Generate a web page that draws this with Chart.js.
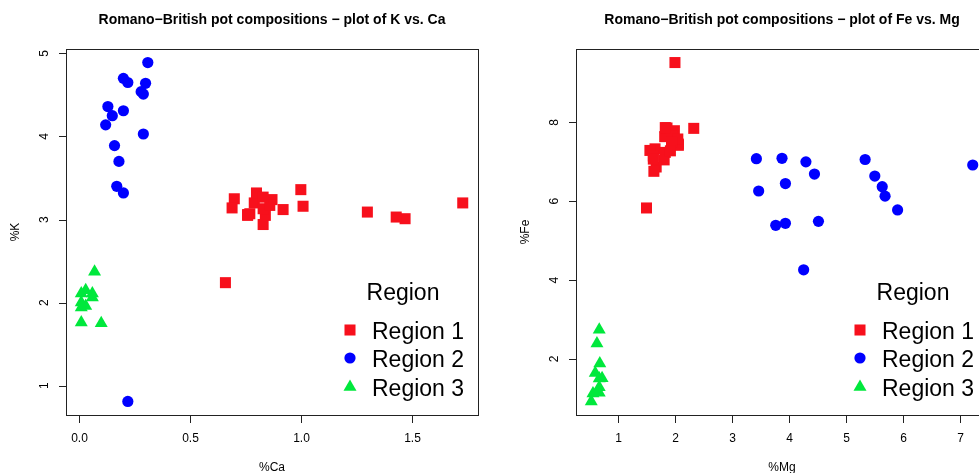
<!DOCTYPE html>
<html>
<head>
<meta charset="utf-8">
<script src="https://cdn.jsdelivr.net/npm/chart.js@4.4.0/dist/chart.umd.min.js"></script>
<style>
html, body { margin: 0; padding: 0; background: #fff; overflow: hidden; }
#wrap { position: relative; width: 979px; height: 473px; overflow: hidden; }
canvas { position: absolute; top: 0; }
</style>
</head>
<body>
<div id="wrap">
  <canvas id="plotKCa" width="510" height="473" style="left:0px"></canvas>
  <canvas id="plotFeMg" width="510" height="473" style="left:510px"></canvas>
</div>
<script>
var regionNames = ['Region 1', 'Region 2', 'Region 3'];

// Region 1
var caRegion1 = [0.79, 0.84, 0.77, 0.76, 0.92, 0.87, 1.73, 1.00, 0.70, 0.76, 0.66, 1.47, 1.43, 0.83, 0.83, 0.80, 0.86, 1.30, 0.83, 0.69, 1.01];
var kRegion1  = [3.20, 3.05, 3.07, 3.05, 3.12, 3.24, 3.20, 3.36, 3.25, 3.06, 2.24, 3.01, 3.03, 3.13, 2.94, 3.32, 3.17, 3.09, 3.27, 3.14, 3.16];
var mgRegion1 = [2.00, 1.65, 1.82, 1.56, 1.83, 2.06, 1.81, 2.06, 1.62, 1.67, 1.50, 1.63, 1.62, 1.99, 1.86, 1.94, 2.33, 1.83, 2.05, 1.94, 1.92];
var feRegion1 = [9.52, 7.33, 7.64, 7.29, 7.24, 7.45, 7.05, 7.42, 7.15, 6.87, 5.83, 6.76, 7.07, 7.79, 7.86, 7.65, 7.85, 7.87, 7.58, 7.50, 7.28];

// Region 2
var caRegion2 = [0.15, 0.12, 0.13, 0.16, 0.20, 0.17, 0.20, 0.18, 0.29, 0.28, 0.22, 0.31, 0.29, 0.30, 0.20, 0.22];
var kRegion2  = [4.25, 4.14, 4.36, 3.89, 4.31, 3.40, 3.32, 3.70, 4.03, 4.54, 4.65, 4.89, 4.51, 4.64, 4.70, 0.81];
var mgRegion2 = [4.30, 3.43, 3.88, 5.64, 5.34, 3.47, 4.26, 5.91, 4.52, 7.23, 5.69, 5.51, 3.77, 3.94, 4.45, 3.94];
var feRegion2 = [7.00, 7.08, 7.09, 6.37, 7.06, 6.26, 4.26, 5.78, 5.49, 6.92, 6.13, 6.64, 5.39, 5.44, 6.69, 6.45];

// Region 3
var caRegion3 = [0.03, 0.01, 0.01, 0.01, 0.07, 0.06, 0.06, 0.01, 0.03, 0.10];
var kRegion3  = [1.96, 1.94, 2.11, 2.00, 2.37, 2.06, 2.11, 1.76, 2.15, 1.75];
var mgRegion3 = [0.67, 0.63, 0.67, 0.68, 0.72, 0.56, 0.67, 0.53, 0.67, 0.60];
var feRegion3 = [1.28, 2.39, 1.50, 1.88, 1.51, 1.12, 1.14, 0.92, 2.74, 1.64];

// axis ticks
var caTicks = [0, 0.5, 1, 1.5];
var caTickLabels = ['0.0', '0.5', '1.0', '1.5'];
var kTicks = [1, 2, 3, 4, 5];
var mgTicks = [1, 2, 3, 4, 5, 6, 7];
var feTicks = [2, 4, 6, 8];

var FONT = '"Liberation Sans", Arial, Helvetica, sans-serif';
var colors = ['#F7101C', '#0000FF', '#00E83C'];
var shapes = ['rect', 'circle', 'triangle'];
var sizes = [7.8, 5.6, 7.5];

function extendRange(arrays) {
    var all = [].concat.apply([], arrays);
    var lo = Math.min.apply(null, all), hi = Math.max.apply(null, all);
    var d = (hi - lo) * 0.04;
    return [lo - d, hi + d];
}

function toPoints(xs, ys) {
    var pts = [];
    for (var i = 0; i < xs.length; i++) pts.push({ x: xs[i], y: ys[i] });
    return pts;
}

function makePlot(id, title, xLabel, yLabel, xData, yData, xTicks, xTickLabels, yTicks) {
    var datasets = [];
    for (var r = 0; r < 3; r++) {
        datasets.push({
            label: regionNames[r],
            data: toPoints(xData[r], yData[r]),
            pointStyle: shapes[r],
            pointRadius: sizes[r],
            pointHoverRadius: sizes[r],
            pointBackgroundColor: colors[r],
            pointBorderWidth: 0,
            borderWidth: 0
        });
    }
    var xr = extendRange(xData), yr = extendRange(yData);

    var frame = {
        id: 'frame',
        afterDraw: function(chart) {
            var ctx = chart.ctx, a = chart.chartArea;
            var sx = chart.scales.x, sy = chart.scales.y;
            var i, p;
            ctx.save();
            ctx.strokeStyle = '#222';
            ctx.lineWidth = 1;
            ctx.strokeRect(a.left + 0.5, a.top + 0.5, a.right - a.left, a.bottom - a.top);

            ctx.fillStyle = '#000';
            ctx.font = '12px ' + FONT;
            ctx.textAlign = 'center';
            ctx.textBaseline = 'alphabetic';
            ctx.beginPath();
            for (i = 0; i < xTicks.length; i++) {
                p = Math.round(sx.getPixelForValue(xTicks[i])) + 0.5;
                ctx.moveTo(p, a.bottom + 1);
                ctx.lineTo(p, a.bottom + 8);
                ctx.fillText(xTickLabels[i], p, a.bottom + 27);
            }
            for (i = 0; i < yTicks.length; i++) {
                p = Math.round(sy.getPixelForValue(yTicks[i])) + 0.5;
                ctx.moveTo(a.left - 7, p);
                ctx.lineTo(a.left, p);
            }
            ctx.stroke();
            for (i = 0; i < yTicks.length; i++) {
                p = sy.getPixelForValue(yTicks[i]);
                ctx.save();
                ctx.translate(a.left - 18.5, p);
                ctx.rotate(-Math.PI / 2);
                ctx.fillText(String(yTicks[i]), 0, 0);
                ctx.restore();
            }

            // axis titles
            var cx = (a.left + a.right) / 2;
            ctx.fillText(xLabel, cx, a.bottom + 56);
            ctx.save();
            ctx.translate(19, (a.top + a.bottom) / 2);
            ctx.rotate(-Math.PI / 2);
            ctx.fillText(yLabel, 0, 0);
            ctx.restore();

            // main title
            ctx.font = 'bold 14px ' + FONT;
            ctx.fillText(title, cx, 24);

            // legend
            ctx.font = '23px ' + FONT;
            ctx.fillText('Region', a.right - 75, a.bottom - 115);
            ctx.textAlign = 'left';
            var rowY = [a.bottom - 85, a.bottom - 57, a.bottom - 28];
            for (i = 0; i < 3; i++) {
                ctx.fillStyle = colors[i];
                Chart.helpers.drawPoint(ctx, { pointStyle: shapes[i], radius: sizes[i], rotation: 0, borderWidth: 0 }, a.right - 128, rowY[i]);
                ctx.fillStyle = '#000';
                ctx.fillText(regionNames[i], a.right - 106, rowY[i] + 8.5);
            }
            ctx.restore();
        }
    };

    return new Chart(document.getElementById(id), {
        type: 'scatter',
        data: { datasets: datasets },
        options: {
            responsive: false,
            animation: false,
            devicePixelRatio: 1,
            layout: { padding: { left: 66, right: 32, top: 49, bottom: 58 } },
            plugins: { legend: { display: false }, title: { display: false }, tooltip: { enabled: false } },
            scales: {
                x: { type: 'linear', display: false, min: xr[0], max: xr[1] },
                y: { type: 'linear', display: false, min: yr[0], max: yr[1] }
            }
        },
        plugins: [frame]
    });
}

makePlot('plotKCa', 'Romano\u2212British pot compositions \u2212 plot of K vs. Ca', '%Ca', '%K',
    [caRegion1, caRegion2, caRegion3], [kRegion1, kRegion2, kRegion3], caTicks, caTickLabels, kTicks);
makePlot('plotFeMg', 'Romano\u2212British pot compositions \u2212 plot of Fe vs. Mg', '%Mg', '%Fe',
    [mgRegion1, mgRegion2, mgRegion3], [feRegion1, feRegion2, feRegion3], mgTicks, mgTicks.map(String), feTicks);
</script>
</body>
</html>
